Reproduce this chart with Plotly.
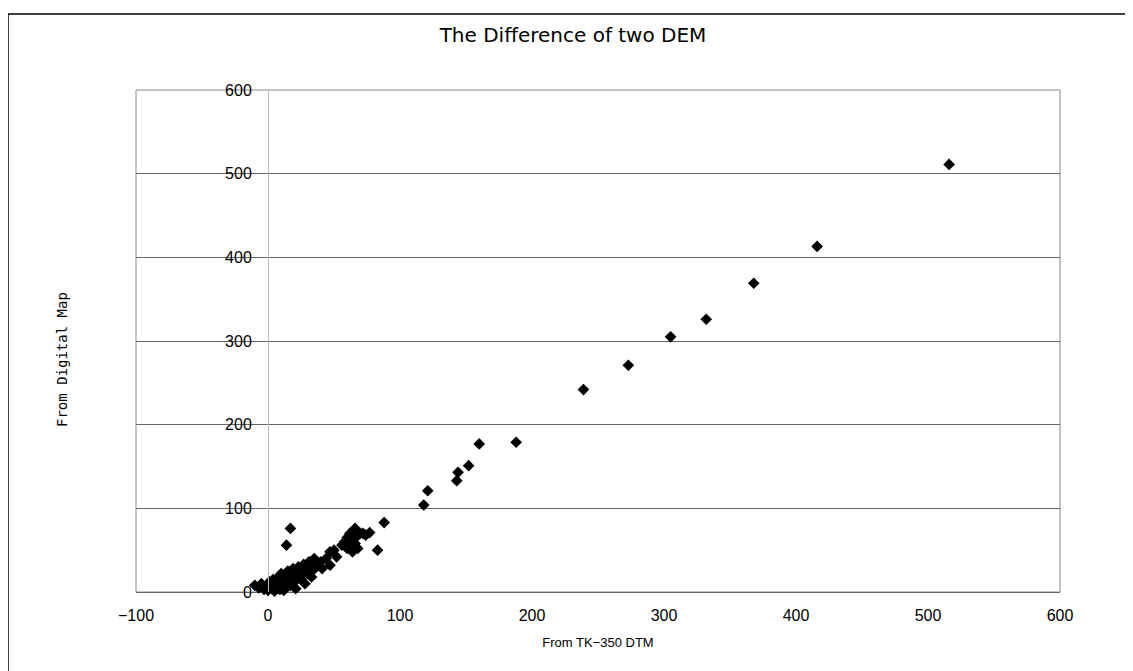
import plotly.graph_objects as go

# Data (TK-350 DTM vs Digital Map elevations)
x_dtm = [516, 416, 368, 332, 305, 273, 239, 188, 160, 152, 144, 143, 121, 118, 88, 83, 17, 14,
         58, 60, 61, 62, 63, 64, 65, 66, 66, 67, 68, 70, 72, 74, 77, 60, 63, 65,
         -10, -7, -5, -3, -1, 0, 1, 2, 3, 4, 5, 6, 7, 8, 8, 9, 10, 10, 11, 12, 12, 13, 14,
         15, 15, 16, 17, 18, 19, 20, 20, 21, 22, 23, 24, 25, 26, 27, 28, 29, 30, 31, 32,
         33, 34, 35, 36, 38, 40, 41, 44, 47, 47, 50, 52, 56]
y_map = [511, 413, 369, 326, 305, 271, 242, 179, 177, 151, 143, 133, 121, 104, 83, 50, 76, 56,
         60, 65, 55, 70, 62, 48, 74, 76, 58, 66, 52, 70, 70, 68, 71, 52, 57, 68,
         8, 5, 10, 3, 6, 2, 12, 8, 4, 15, 1, 9, 5, 18, 12, 3, 7, 22, 14, 10, 2, 17, 6,
         25, 12, 20, 8, 15, 28, 22, 12, 4, 18, 30, 25, 15, 20, 33, 10, 28, 22, 36, 30,
         18, 26, 40, 29, 33, 36, 28, 40, 32, 48, 50, 42, 56]

x_ticks = [-100, 0, 100, 200, 300, 400, 500, 600]
y_ticks = [0, 100, 200, 300, 400, 500, 600]

FONT = "Liberation Sans, Arial, sans-serif"
W, H = 1125, 663          # page body has an 8px margin
ML, MR, MT, MB = 128, 73, 82, 79
PW, PH = W - ML - MR, H - MT - MB

fig = go.Figure()
fig.add_trace(go.Scatter(
    x=x_dtm, y=y_map, mode="markers",
    marker=dict(symbol="diamond", size=9, color="black", line=dict(width=0)),
    cliponaxis=False, showlegend=False,
))

fig.update_layout(
    width=W, height=H,
    paper_bgcolor="white", plot_bgcolor="white",
    margin=dict(l=ML, r=MR, t=MT, b=MB, autoexpand=False),
    font=dict(family=FONT, size=16, color="black"),
    title=dict(text="The Difference of two DEM", x=565 / W, xref="container", xanchor="center",
               y=1 - 27 / H, yref="container", yanchor="middle",
               font=dict(family="DejaVu Sans, sans-serif", size=20, color="black")),
    xaxis=dict(range=[-100, 600], tickvals=x_ticks, showgrid=False, zeroline=False,
               showline=False, ticks="", ticklabelstandoff=12,
               title=dict(text="From TK\u2212350 DTM", font=dict(size=13), standoff=14),
               tickfont=dict(size=16)),
    yaxis=dict(range=[0, 600], tickvals=y_ticks, showgrid=True, gridcolor="#666", gridwidth=1,
               zeroline=True, zerolinecolor="#666", zerolinewidth=1,
               anchor="free", position=100 / 700, showline=True, linecolor="#bbb", linewidth=1,
               ticks="", ticklabelstandoff=13, tickfont=dict(size=16)),
    shapes=[
        dict(type="rect", xref="paper", yref="paper", x0=0, x1=1, y0=0, y1=1,
             line=dict(color="#888", width=1), layer="below"),
        dict(type="rect", xref="paper", yref="paper", x0=-ML / PW, x1=(W + 10 - ML) / PW,
             y0=-(MB + 10) / PH, y1=1 + (MT - 6) / PH, line=dict(color="black", width=1.5)),
    ],
    annotations=[
        dict(text="From Digital Map", xref="paper", yref="paper", x=(54 - ML) / PW,
             y=(592 - 360) / PH, textangle=-90, showarrow=False,
             font=dict(family="DejaVu Sans Mono, monospace", size=14, color="black"),
             xanchor="center", yanchor="middle"),
    ],
)

fig.write_html("out.html")
